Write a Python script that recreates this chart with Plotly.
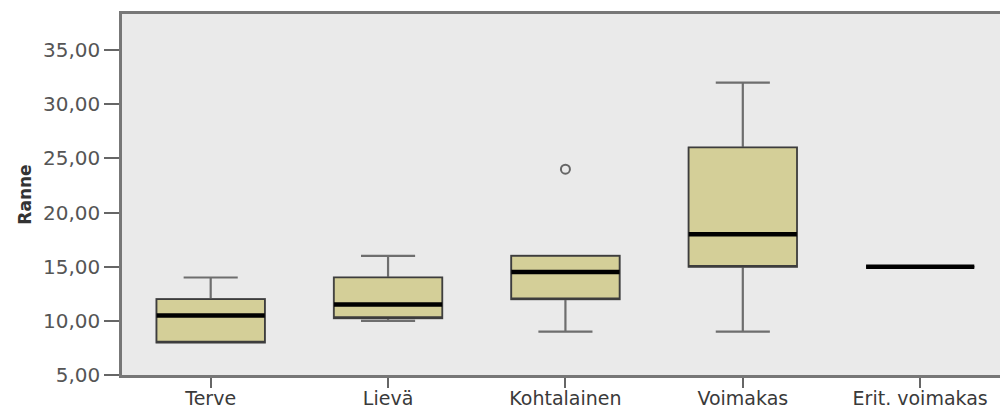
import plotly.graph_objects as go

# Groups and five-number summaries (Ranne)
categories = ["Terve", "Lievä", "Kohtalainen", "Voimakas", "Erit. voimakas"]
lower_whisker = [8.0, 10.0, 9.0, 9.0, 15.0]
q1_values = [8.0, 10.25, 12.0, 15.0, 15.0]
medians = [10.5, 11.5, 14.5, 18.0, 15.0]
q3_values = [12.0, 14.0, 16.0, 26.0, 15.0]
upper_whisker = [14.0, 16.0, 16.0, 32.0, 15.0]

# Outliers
outlier_groups = ["Kohtalainen"]
outlier_values = [24.0]

y_ticks = [5, 10, 15, 20, 25, 30, 35]

BOX_FILL = "#D4CF98"
BOX_EDGE = "#3d3d3d"
WHISKER = "#6e6e6e"
BOX_WIDTH = 0.61
FONT = "DejaVu Sans, Arial, sans-serif"

fig = go.Figure()

# Whiskers (gray)
fig.add_trace(go.Box(
    x=categories, q1=q1_values, median=medians, q3=q3_values,
    lowerfence=lower_whisker, upperfence=upper_whisker,
    width=BOX_WIDTH, whiskerwidth=0.5, boxpoints=False,
    fillcolor=BOX_FILL, line=dict(color=WHISKER, width=2.2),
    hoverinfo="skip", showlegend=False,
))

# Box bodies with dark outline
fig.add_trace(go.Box(
    x=categories, q1=q1_values, median=q1_values, q3=q3_values,
    lowerfence=q1_values, upperfence=q3_values,
    width=BOX_WIDTH, whiskerwidth=0, boxpoints=False,
    fillcolor=BOX_FILL, line=dict(color=BOX_EDGE, width=1.6),
    hoverinfo="skip", showlegend=False,
))

# Thick black median lines
fig.add_trace(go.Box(
    x=categories, q1=medians, median=medians, q3=medians,
    lowerfence=medians, upperfence=medians,
    width=BOX_WIDTH, whiskerwidth=0, boxpoints=False,
    fillcolor="rgba(0,0,0,0)", line=dict(color="#000000", width=4.5),
    hoverinfo="skip", showlegend=False,
))

# Outlier markers
fig.add_trace(go.Scatter(
    x=outlier_groups, y=outlier_values, mode="markers",
    marker=dict(symbol="circle-open", size=9, color="#666666",
                line=dict(width=2)),
    showlegend=False,
))

fig.update_layout(
    width=1000, height=412,
    margin=dict(l=122, r=0, t=14, b=37),
    paper_bgcolor="white",
    plot_bgcolor="#EAEAEA",
    boxmode="overlay",
    separators=", ",
    font=dict(family=FONT, size=20, color="#444444"),
)

fig.update_xaxes(
    type="category", categoryorder="array", categoryarray=categories,
    range=[-0.5, 4.45], automargin=False,
    showline=True, linecolor="#777777", linewidth=2.5, mirror=True,
    ticks="outside", ticklen=10, tickwidth=2, tickcolor="#666666",
    ticklabelstandoff=-6,
    showgrid=False, zeroline=False,
    tickfont=dict(family=FONT, size=19, color="#3a3a3a"),
)

fig.update_yaxes(
    range=[5, 38.33], automargin=False,
    tickvals=y_ticks, tickformat=".2f",
    showline=True, linecolor="#777777", linewidth=2.5, mirror=False,
    ticks="outside", ticklen=15, tickwidth=2, tickcolor="#666666",
    showgrid=False, zeroline=False,
    tickfont=dict(family=FONT, size=20, color="#555555"),
    title=dict(text="<b>Ranne</b>", font=dict(family=FONT, size=17, color="#333333"),
               standoff=8),
)

fig.write_html("out.html")
